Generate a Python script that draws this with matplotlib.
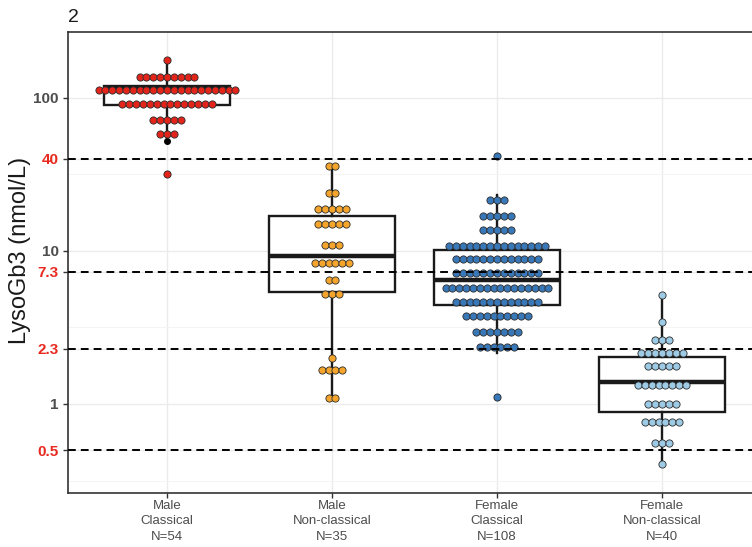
import numpy as np
import matplotlib
matplotlib.use("Agg")
from matplotlib import pyplot as plt
from matplotlib.ticker import FixedLocator, NullFormatter

plt.rcParams["font.family"] = ["Liberation Sans", "DejaVu Sans"]

groups = ["Male\nClassical\nN=54", "Male\nNon-classical\nN=35",
          "Female\nClassical\nN=108", "Female\nNon-classical\nN=40"]
dot_colors = ["#E3241B", "#F5A52B", "#3878B8", "#9DCBE6"]

# dot-plot rows: binned level (nmol/L) and number of dots stacked at it
g1_levels = [177, 138, 112, 91, 71.5, 58, 31.7]
g1_counts = [1, 9, 21, 14, 5, 3, 1]
g2_levels = [35.9, 23.8, 18.7, 15.0, 10.9, 8.3, 6.46, 5.24, 2.01, 1.67, 1.10]
g2_counts = [2, 2, 5, 5, 3, 6, 2, 3, 1, 4, 2]
g3_levels = [41.8, 21.6, 16.9, 13.7, 10.8, 8.83, 7.15, 5.75, 4.66, 3.76, 2.97, 2.35, 1.11]
g3_counts = [1, 3, 5, 5, 15, 13, 13, 16, 13, 10, 7, 6, 1]
g4_levels = [5.16, 3.42, 2.62, 2.16, 1.77, 1.33, 1.0, 0.759, 0.553, 0.404]
g4_counts = [1, 1, 3, 7, 5, 8, 5, 6, 3, 1]

# box-plot statistics
q1 = [90, 5.37, 4.44, 0.883]
medians = [117, 9.3, 6.46, 1.39]
q3 = [120, 17.0, 10.2, 2.04]
whisk_lo = [55, 1.10, 2.15, 0.404]
whisk_hi = [177, 35.9, 23.2, 5.16]
outliers = [[52.5, 31.7], [], [41.8, 1.11], []]

cutoffs = [40, 7.3, 2.3, 0.5]
ytick_vals = [0.5, 1, 2.3, 7.3, 10, 40, 100]
ytick_text = ["0.5", "1", "2.3", "7.3", "10", "40", "100"]
ytick_colors = ["#E8291F", "#4D4D4D", "#E8291F", "#E8291F", "#4D4D4D", "#E8291F", "#4D4D4D"]

W, H = 752, 547
fig = plt.figure(figsize=(W / 100, H / 100), dpi=100)
ax = fig.add_axes([68 / W, 54 / H, (W - 68) / W, 461 / H])
ax.set_yscale("log")
ax.set_ylim(0.262, 270)
ax.set_xlim(0.4, 0.4 + (W - 68) / 165)

# grid
ax.yaxis.set_minor_locator(FixedLocator([10 ** -0.5, 10 ** 0.5, 10 ** 1.5]))
ax.yaxis.set_minor_formatter(NullFormatter())
ax.grid(True, which="major", color="#EBEBEB", linewidth=1.0, zorder=0)
ax.grid(True, which="minor", axis="y", color="#F3F3F3", linewidth=0.6, zorder=0)
ax.set_axisbelow(True)

stats = []
for i in range(4):
    stats.append(dict(med=medians[i], q1=q1[i], q3=q3[i],
                      whislo=whisk_lo[i], whishi=whisk_hi[i], fliers=outliers[i]))
ax.bxp(stats, positions=[1, 2, 3, 4], widths=0.76, showcaps=False, patch_artist=True,
       boxprops=dict(facecolor="white", edgecolor="#1A1A1A", linewidth=1.7),
       whiskerprops=dict(color="#1A1A1A", linewidth=1.7),
       medianprops=dict(color="#1A1A1A", linewidth=3.2),
       flierprops=dict(marker="o", markersize=4, markerfacecolor="black",
                       markeredgecolor="black"),
       zorder=2)

dot_step = 0.0415
all_levels = [g1_levels, g2_levels, g3_levels, g4_levels]
all_counts = [g1_counts, g2_counts, g3_counts, g4_counts]
for i, (levels, counts) in enumerate(zip(all_levels, all_counts)):
    for lv, n in zip(levels, counts):
        xs = i + 1 + (np.arange(n) - (n - 1) / 2) * dot_step
        ax.plot(xs, [lv] * n, "o", color=dot_colors[i], markersize=5.2,
                markeredgecolor="#2B2B2B", markeredgewidth=0.6, zorder=3)

for c in cutoffs:
    ax.axhline(c, color="black", linewidth=1.4, dashes=(4, 2.6), zorder=4)

ax.set_yticks(ytick_vals)
ax.set_yticklabels(ytick_text, fontsize=11, fontweight="bold")
for lbl, col in zip(ax.get_yticklabels(), ytick_colors):
    lbl.set_color(col)
ax.set_xticks([1, 2, 3, 4])
ax.set_xticklabels(groups, fontsize=9.5, color="#4D4D4D", linespacing=1.38)
ax.tick_params(axis="both", which="major", length=3.5, width=1, color="#333333", pad=3)
ax.tick_params(axis="x", which="major", pad=1.5)
ax.tick_params(axis="y", which="minor", length=0)

for side in ["left", "top", "bottom"]:
    ax.spines[side].set_color("#333333")
    ax.spines[side].set_linewidth(1.2)
ax.spines["right"].set_visible(False)

ax.set_ylabel("LysoGb3 (nmol/L)", fontsize=17, color="#1A1A1A")
ax.yaxis.set_label_coords(-0.054, 0.527)
fig.text(68 / W, 1 - 17 / H, "2", fontsize=14, color="#1A1A1A", va="center", ha="left")

fig.savefig("out.png", dpi=100)
